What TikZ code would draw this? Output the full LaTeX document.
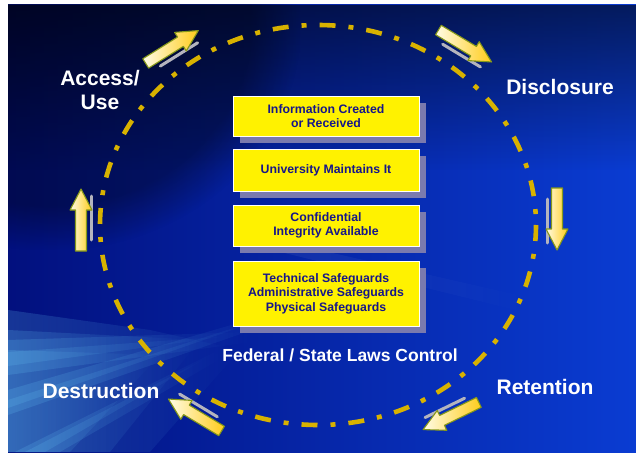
\documentclass[tikz,border=0pt]{standalone}
\usepackage{fontspec}
\setmainfont{Liberation Sans}
\usetikzlibrary{fadings,shadows}
\definecolor{bgdark}{HTML}{02107E}
\definecolor{bgmid}{HTML}{0A22B0}
\definecolor{bgbright}{HTML}{0A3CD2}
\definecolor{raycol}{HTML}{62BEF0}
\definecolor{ringcol}{HTML}{D8B200}
\definecolor{boxtext}{HTML}{16168A}
\definecolor{boxshadow}{HTML}{7A7AAE}
\definecolor{arrowedge}{HTML}{86981A}
\definecolor{arrowtail}{HTML}{FFFCE6}
\definecolor{arrowmid}{HTML}{FFEC70}
\definecolor{arrowhead}{HTML}{FFCC1A}
\definecolor{shadowgrey}{HTML}{B4B4BE}
\newcommand{\cyclearrow}[3]{%
  \begin{scope}[shift={(#1,#2)}, rotate=#3, x=1pt, y=1pt]
    \draw[shadowline] (-20,-10) -- (24,-10);
    \filldraw[arrowbody] (-31,-5.5) -- (10,-5.5) -- (10,-11) -- (31,0) -- (10,11) -- (10,5.5) -- (-31,5.5) -- cycle;
  \end{scope}}
\begin{document}
\begin{tikzpicture}[x=1pt,y=-1pt,
  shadowline/.style={shadowgrey, line width=3pt, line cap=round},
  arrowbody/.style={draw=arrowedge, line width=1.1pt, line join=round,
    left color=arrowtail, middle color=arrowmid, right color=arrowhead},
  cyclebox/.style={fill=yellow, draw=white, line width=0.8pt, minimum width=186pt,
    inner sep=0pt, align=center, text=boxtext, font=\bfseries\fontsize{12.3}{14.5}\selectfont,
    general shadow={fill=boxshadow, shadow xshift=7pt, shadow yshift=-7pt}},
  phase/.style={text=white, align=center, font=\bfseries\fontsize{21}{24}\selectfont, inner sep=0pt},
  ring/.style={ringcol, line width=4.6pt, dash pattern=on 16pt off 13pt on 5pt off 13pt},
  softray/.style={raycol, opacity=0.22, path fading=east}]
\useasboundingbox (0,0) rectangle (636,452);
\fill[white] (0,0) rectangle (636,452);
% background
\begin{scope}
\clip (8,5) rectangle (636,452);
\shade[left color=bgdark, middle color=bgmid, right color=bgbright] (8,5) rectangle (636,452);
\fill[black, opacity=0.55, path fading=south] (8,5) rectangle (636,170);
\fill[black, opacity=0.35, path fading=circle with fuzzy edge 20 percent] (-200,-200) rectangle (300,250);
% light rays bottom-left (soft, layered)
\fill[softray] (8,310) -- (150,330) -- (240,350) -- (150,452) -- (8,452) -- cycle;
\fill[softray] (8,330) -- (200,340) -- (110,452) -- (8,452) -- cycle;
\fill[softray] (8,350) -- (160,355) -- (70,452) -- (8,452) -- cycle;
\fill[softray] (8,340) -- (250,332) -- (252,342) -- (8,375) -- cycle;
\fill[softray] (8,352) -- (230,336) -- (8,366) -- cycle;
\fill[softray] (15,452) -- (215,352) -- (222,358) -- (60,452) -- cycle;
\fill[softray] (25,452) -- (210,356) -- (45,452) -- cycle;
\fill[softray] (8,390) -- (300,305) -- (304,312) -- (8,415) -- cycle;
\fill[softray] (8,400) -- (290,310) -- (8,408) -- cycle;
\fill[white, opacity=0.07, path fading=east] (240,232) -- (540,300) -- (540,316) -- (240,242) -- cycle;
\end{scope}
% ring
\draw[ring] (318,225) ellipse [x radius=218, y radius=200];
% arrows
\cyclearrow{172}{47}{32}
\cyclearrow{465}{46}{-31}
\cyclearrow{557}{219}{-90}
\cyclearrow{451}{416}{-154}
\cyclearrow{195}{415}{149}
\cyclearrow{81}{220}{90}
% boxes
\node[cyclebox, minimum height=40pt] (b1) at (326,116) {Information Created\\or Received};
\node[cyclebox, minimum height=42pt] (b2) at (326,170) {University Maintains It};
\node[cyclebox, minimum height=41pt] (b3) at (326,225.5) {Confidential\\Integrity Available};
\node[cyclebox, minimum height=65pt] (b4) at (326,293.5) {Technical Safeguards\\Administrative Safeguards\\Physical Safeguards};
\node[text=white, inner sep=0pt, font=\bfseries\fontsize{17.5}{20}\selectfont] (laws) at (340,355) {Federal / State Laws Control};
% phase labels
\node[phase] (access) at (100,90) {Access/\\Use};
\node[phase] (disclosure) at (560,87) {Disclosure};
\node[phase] (retention) at (545,387) {Retention};
\node[phase] (destruction) at (101,391) {Destruction};
\end{tikzpicture}
\end{document}
